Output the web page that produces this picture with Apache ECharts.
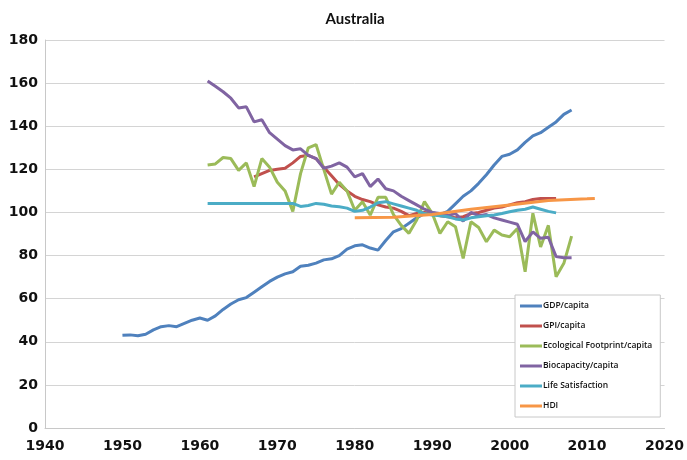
<!DOCTYPE html>
<html>
<head>
<meta charset="utf-8">
<script src="https://cdn.jsdelivr.net/npm/echarts@6/dist/echarts.min.js"></script>
<style>
html,body{margin:0;padding:0;background:#fff;}
#chart{width:687px;height:460px;}
</style>
</head>
<body>
<div id="chart"></div>
<script>
// ---- data ----
var titleText = 'Australia';
var seriesNames = ['GDP/capita','GPI/capita','Ecological Footprint/capita','Biocapacity/capita','Life Satisfaction','HDI'];
var seriesColors = ['#4F81BD','#C0504D','#9BBB59','#8064A2','#4BACC6','#F79646'];

var gdpStart = 1950;
var gdp = [43,43.2,42.8,43.5,45.5,47,47.5,47,48.5,50,
           51,50,52,55,57.5,59.5,60.5,63,65.5,68,
           70,71.5,72.5,75,75.5,76.5,78,78.5,80,83,
           84.5,85,83.5,82.5,87,91,92.5,95,97.5,99.5,
           100,99,100.5,104,107.5,110,113.5,117.5,122,126,
           127,129,132.5,135.5,137,139.5,142,145.5,147.5];

var gpiStart = 1967;
var gpi = [116.5,118,119.5,120,120.5,123,126,126.5,125,121,
           117,113,110,107.5,106,105,103.5,102.5,102,100.5,
           98.5,99.5,100,99.5,98.5,98,97.5,98,99.5,100,
           101,102,102.5,103.5,104.5,105,106,106.5,106.5,106.5];

var ecoStart = 1961;
var eco = [122,122.5,125.5,125,119.5,123,112,125,121,114,
           110,100.5,118,130,131.5,120,108.5,114,110,101,
           105,98.8,107,107,99,94,90.3,96.5,105,99.6,
           90.3,95.7,93.4,78.7,95.7,93,86.4,91.8,89.5,88.7,
           92.6,72.5,99.6,84,94,70.2,76.4,89];

var bioStart = 1961;
var bio = [161,158.5,156,153,148.5,149,142,143,137,134,
           131,129,129.5,126.5,125,120.5,121.5,123,121,116.5,
           118,112,115.5,111,110,107.5,105.5,103.5,101.5,100,
           99.5,98.5,99.5,96,100,98.5,99,97.5,96.5,95.5,
           94.5,86.5,91,88,88.5,79.5,79,79];

var lifeStart = 1961;
var life = [104.2,104.2,104.2,104.2,104.2,104.2,104.2,104.2,104.2,104.2,104.2,104.2,
            102.8,103.2,104.2,103.8,103,102.6,102,100.5,101,102.5,
            104.5,105,104,103,102,101,99.5,98.8,98.5,98,
            97,96.5,97.5,98,98.5,98.8,99.5,100.3,101,101.5,
            102.5,101.5,100.5,99.8];

var hdiYears = [1980,1985,1990,1995,2000,2005,2010,2011];
var hdi = [97.5,97.8,99,101.5,103.5,105.5,106.3,106.5];

var xTicks = {min:1940, max:2020, interval:10};
var yTicks = {min:0, max:180, interval:20};

// ---- build pairs ----
function fromStart(start, vals){ return vals.map(function(v,i){ return [start+i, v]; }); }
function fromYears(years, vals){ return vals.map(function(v,i){ return [years[i], v]; }); }

var seriesData = [
  fromStart(gdpStart, gdp),
  fromStart(gpiStart, gpi),
  fromStart(ecoStart, eco),
  fromStart(bioStart, bio),
  fromStart(lifeStart, life),
  fromYears(hdiYears, hdi)
];

var chart = echarts.init(document.getElementById('chart'), null, {renderer:'canvas'});
var font = 'DejaVu Sans';
var option = {
  backgroundColor:'#ffffff',
  animation:false,
  title:{
    text:titleText,
    left:350, top:7, textAlign:'center',
    textStyle:{fontFamily:'Lato', fontWeight:'bold', fontSize:15, color:'#111'}
  },
  grid:{left:45, right:22, top:40, bottom:32, containLabel:false},
  xAxis:{
    type:'value', min:xTicks.min, max:xTicks.max, interval:xTicks.interval,
    axisLine:{show:true, lineStyle:{color:'#c8c8c8', width:1}},
    axisTick:{show:false},
    splitLine:{show:false},
    axisLabel:{margin:11, fontFamily:font, fontWeight:'bold', fontSize:14, color:'#111',
               formatter:function(v){return String(v);}}
  },
  yAxis:{
    type:'value', min:yTicks.min, max:yTicks.max, interval:yTicks.interval,
    axisLine:{show:true, lineStyle:{color:'#c8c8c8', width:1}},
    axisTick:{show:false},
    splitLine:{show:true, lineStyle:{color:'#d4d4d4', width:1}},
    axisLabel:{margin:7, fontFamily:font, fontWeight:'bold', fontSize:14, color:'#111'}
  },
  legend:{
    orient:'vertical', left:515, top:295,
    padding:[6,8,6,5],
    itemGap:10, itemWidth:22, itemHeight:3, icon:'rect',
    borderColor:'#c8c8c8', borderWidth:1, backgroundColor:'#fff',
    textStyle:{fontFamily:'Open Sans', fontWeight:600, fontSize:8.5, lineHeight:10, color:'#111', padding:[0,0,0,-4]},
    data:seriesNames
  },
  series: seriesNames.map(function(n,i){
    return {
      name:n, type:'line', data:seriesData[i],
      showSymbol:false, symbol:'none',
      lineStyle:{width:3, color:seriesColors[i]},
      itemStyle:{color:seriesColors[i]},
      z: 2+i
    };
  })
};
chart.setOption(option);
</script>
</body>
</html>
